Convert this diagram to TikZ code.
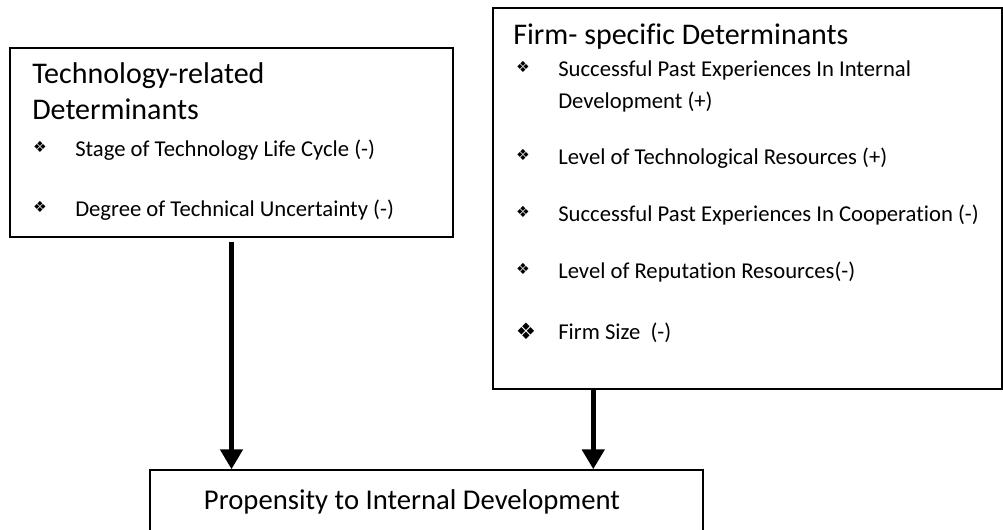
\documentclass[tikz,border=0pt]{standalone}
\usepackage{fontspec}
\setmainfont{Carlito}[Ligatures=NoCommon]
\newfontfamily\dingfont{DejaVu Sans}
\usetikzlibrary{arrows.meta,fit}

\newcommand{\dia}{{\dingfont\char"2756}}

\begin{document}
\begin{tikzpicture}[x=0.75pt,y=-0.75pt,
  box/.style={draw,line width=1.1pt,inner sep=0pt},
  head/.style={anchor=west,inner sep=0pt,yshift=-2pt,font=\fontsize{22.5}{26}\selectfont,text height=0.75em,text depth=0.25em},
  item/.style={anchor=west,inner sep=0pt,yshift=-2pt,font=\fontsize{17}{20}\selectfont,text height=0.75em,text depth=0.25em},
  bul/.style={inner sep=0pt,font=\fontsize{11.5}{12}\selectfont},
  bigarrow/.style={line width=3.8pt,-{Triangle[width=16.5pt,length=15pt]}}]
\useasboundingbox (0,0) rectangle (1003,529);
% boxes
\node[box,fit={(10,48) (453,237)}] (tech) {};
\node[box,fit={(493,8) (1002,389)}] (firm) {};
\node[box,fit={(150,470) (703,560)}] (prop) {};
% technology-related
\node[head] (t1) at (32,77) {Technology-related};
\node[head] (t2) at (32,113) {Determinants};
\foreach \y/\t [count=\i] in {150/{Stage of Technology Life Cycle (-)},210/{Degree of Technical Uncertainty (-)}}{
  \node[bul] (tb\i) at (40,\y-3) {\dia};
  \node[item] (ti\i) at (75,\y) {\t};
}
% firm-specific
\node[head] (f0) at (513,38) {Firm- specific Determinants};
\foreach \y/\t [count=\i] in {70/{Successful Past Experiences In Internal},102/{Development (+)},158/{Level of Technological Resources (+)},215/{Successful Past Experiences In Cooperation (-)},272/{Level of Reputation Resources(-)},333/{Firm Size\ \ (-)}}
  \node[item] (fi\i) at (558,\y) {\t};
\foreach \y [count=\i] in {70,158,215,272}
  \node[bul] (fb\i) at (523,\y-3) {\dia};
\node[bul,font=\fontsize{17}{17}\selectfont] (fb5) at (526,331) {\dia};
% result
\node[inner sep=0pt,yshift=-1.5pt,font=\fontsize{21.5}{24}\selectfont] (p0) at (412,500) {Propensity to Internal Development};
% arrows
\path (firm.south west) ++(101,0) coordinate (fa);
\draw[bigarrow,shorten <=3pt] (tech.south) -- (tech.south |- prop.north);
\draw[bigarrow] (fa) -- (fa |- prop.north);
\end{tikzpicture}
\end{document}
